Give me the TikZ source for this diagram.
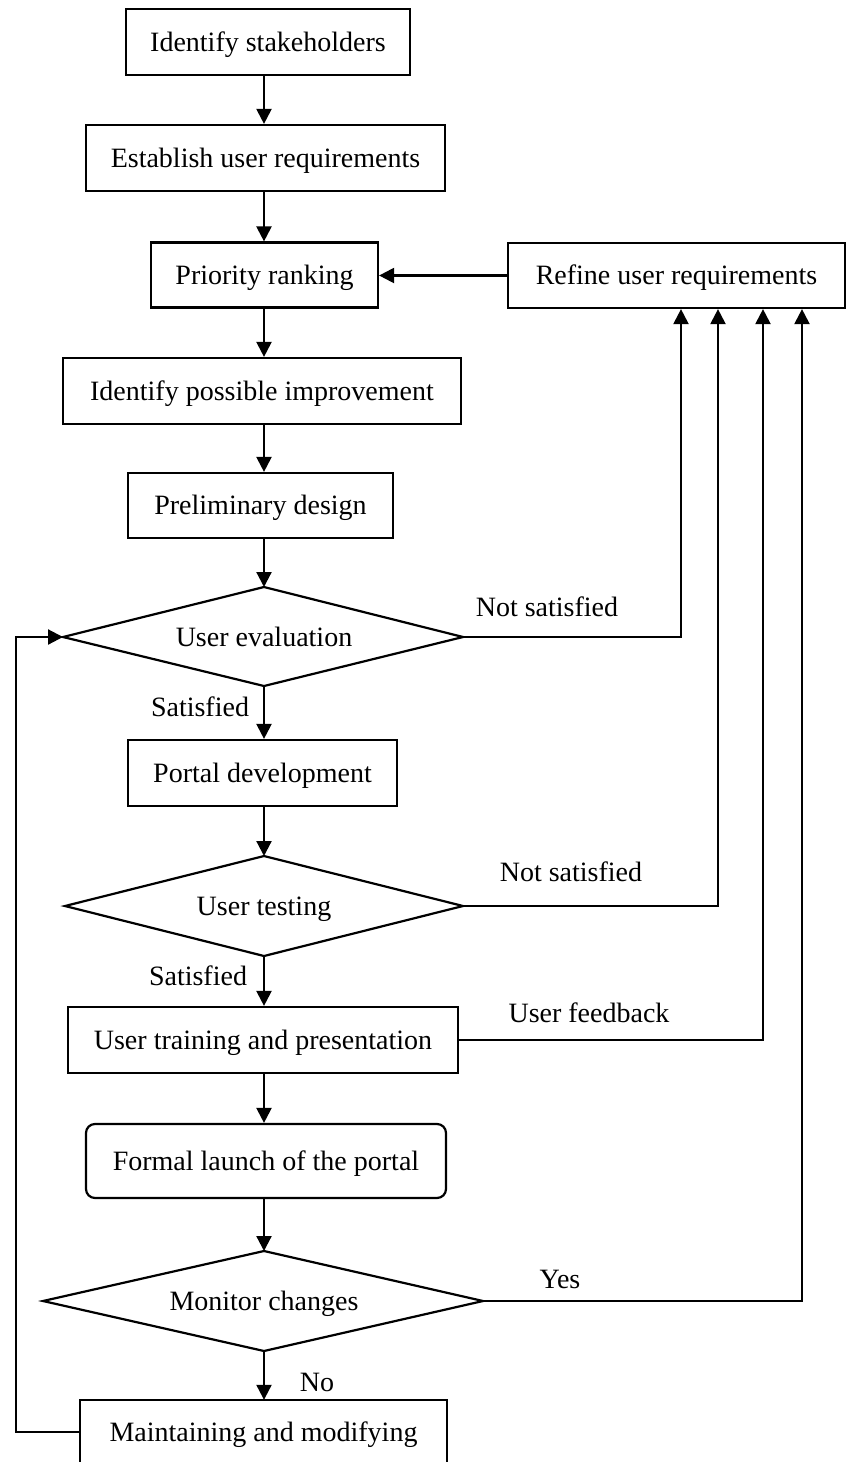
\documentclass[tikz,border=0pt]{standalone}
\usepackage{fontspec}
\setmainfont{Liberation Serif}
\usetikzlibrary{arrows.meta,shapes.geometric}

\tikzset{
  every node/.style={font=\fontsize{28}{32}\selectfont, inner sep=0pt, text height=18.5pt, text depth=0pt},
  stepbox/.style={draw, line width=2.2pt, rectangle, minimum height=66pt},
  roundbox/.style={stepbox, rounded corners=9pt},
  lbl/.style={},
  conn/.style={line width=2.2pt},
  arr/.style={conn, -{Triangle[width=15pt,length=15pt]}},
}

\begin{document}
\begin{tikzpicture}[x=1pt,y=-1pt]
\useasboundingbox (0,0) rectangle (846,1462);

% main column
\coordinate (col) at (264,0);

\node[stepbox, minimum width=284pt] (s1) at (268,42) {Identify stakeholders};
\node[stepbox, minimum width=359pt] (s2) at (265.5,158) {Establish user requirements};
\node[stepbox, minimum width=227pt, minimum height=65pt] (s3) at (264.5,275) {Priority ranking};
\node[stepbox, minimum width=337pt, minimum height=65pt] (ref) at (676.5,275.5) {Refine user requirements};
\node[stepbox, minimum width=398pt] (s4) at (262,391) {Identify possible improvement};
\node[stepbox, minimum width=265pt, minimum height=65pt] (s5) at (260.5,505.5) {Preliminary design};

% user evaluation diamond
\node (d1) at (264,637) {User evaluation};
\coordinate (d1t) at (264,587);
\coordinate (d1b) at (264,686);
\coordinate (d1l) at (63,637);
\coordinate (d1r) at (463,637);
\draw[conn, line join=miter] (d1t) -- (d1r) -- (d1b) -- (d1l) -- cycle;

\node[stepbox, minimum width=269pt] (s6) at (262.5,773) {Portal development};

% user testing diamond
\node (d2) at (264,906) {User testing};
\coordinate (d2t) at (264,856);
\coordinate (d2b) at (264,956);
\coordinate (d2l) at (65,906);
\coordinate (d2r) at (463,906);
\draw[conn, line join=miter] (d2t) -- (d2r) -- (d2b) -- (d2l) -- cycle;

\node[stepbox, minimum width=390pt] (s7) at (263,1040) {User training and presentation};
\node[roundbox, minimum width=360pt, minimum height=74pt] (s8) at (266,1161) {Formal launch of the portal};

% monitor changes diamond
\node (d3) at (264,1301) {Monitor changes};
\coordinate (d3t) at (264,1251);
\coordinate (d3b) at (264,1351);
\coordinate (d3l) at (43,1301);
\coordinate (d3r) at (483,1301);
\draw[conn, line join=miter] (d3t) -- (d3r) -- (d3b) -- (d3l) -- cycle;

% last step, running off the lower edge
\node[minimum width=367pt, minimum height=64pt] (s9) at (263.5,1432) {Maintaining and modifying};
\draw[conn] (s9.south west) -- (s9.north west) -- (s9.north east) -- (s9.south east);

% forward flow
\draw[arr] (s1.south -| col) -- (s2.north -| col);
\draw[arr] (s2.south -| col) -- (s3.north -| col);
\draw[arr] (s3.south -| col) -- (s4.north -| col);
\draw[arr] (s4.south -| col) -- (s5.north -| col);
\draw[arr] (s5.south -| col) -- (d1t);
\draw[arr] (d1b) -- (s6.north -| col);
\draw[arr] (s6.south -| col) -- (d2t);
\draw[arr] (d2b) -- (s7.north -| col);
\draw[arr] (s7.south -| col) -- (s8.north -| col);
\draw[arr] (s8.south -| col) -- (d3t);
\draw[arr] (d3b) -- (s9.north -| col);

% feedback into refinement
\draw[arr] (ref.west) -- (s3.east |- ref.west);
\coordinate (f1) at (681,0);
\coordinate (f2) at (718,0);
\coordinate (f3) at (763,0);
\coordinate (f4) at (802,0);
\draw[arr] (d1r) -- (d1r -| f1) -- (ref.south -| f1);
\draw[arr] (d2r) -- (d2r -| f2) -- (ref.south -| f2);
\draw[arr] (s7.east) -- (s7.east -| f3) -- (ref.south -| f3);
\draw[arr] (d3r) -- (d3r -| f4) -- (ref.south -| f4);

% loop back to evaluation
\coordinate (lp) at (16,0);
\draw[arr] (s9.west) -- (s9.west -| lp) -- (d1l -| lp) -- (d1l);

% labels
\node[lbl] (l1) at (200,707) {Satisfied};
\node[lbl] (l2) at (547,607) {Not satisfied};
\node[lbl] (l3) at (571,872) {Not satisfied};
\node[lbl] (l4) at (198,976) {Satisfied};
\node[lbl] (l5) at (589,1013) {User feedback};
\node[lbl] (l6) at (560,1279) {Yes};
\node[lbl] (l7) at (317,1382) {No};
\end{tikzpicture}
\end{document}
